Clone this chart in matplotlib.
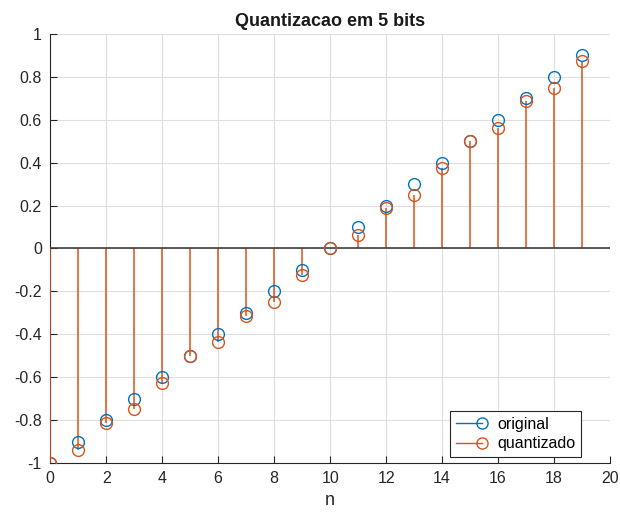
import matplotlib

matplotlib.use("Agg")
import matplotlib.pyplot as plt
from matplotlib.legend_handler import HandlerBase
from matplotlib.lines import Line2D

n = list(range(20))
original = [-1.0, -0.9, -0.8, -0.7, -0.6, -0.5, -0.4, -0.3, -0.2, -0.1,
            0.0, 0.1, 0.2, 0.3, 0.4, 0.5, 0.6, 0.7, 0.8, 0.9]
quantizado = [-1.0, -0.9375, -0.8125, -0.75, -0.625, -0.5, -0.4375, -0.3125, -0.25, -0.125,
              0.0, 0.0625, 0.1875, 0.25, 0.375, 0.5, 0.5625, 0.6875, 0.75, 0.875]

blue = "#0072BD"
orange = "#D95319"

plt.rcParams["font.family"] = ["Liberation Sans", "DejaVu Sans"]


class StemHandler(HandlerBase):
    # MATLAB-like legend entry: line with the marker at its right end
    def create_artists(self, legend, orig_handle, xdescent, ydescent,
                       width, height, fontsize, trans):
        y = height / 2 - ydescent
        x0 = -xdescent
        x1 = -xdescent + width * 0.93
        col = orig_handle.get_color()
        line = Line2D([x0, x1], [y, y], color=col, linewidth=1.0, transform=trans)
        mk = Line2D([x1], [y], marker="o", markersize=8, markerfacecolor="none",
                    markeredgecolor=col, markeredgewidth=1.0, linestyle="none",
                    transform=trans)
        return [line, mk]


fig = plt.figure(figsize=(6.2, 5.15), dpi=100)
ax = fig.add_axes([0.081, 0.101, 0.903, 0.833])

handles = []
for vals, col, lab, z in [(original, blue, "original", 2),
                          (quantizado, orange, "quantizado", 3)]:
    ml, sl, bl = ax.stem(n, vals, basefmt=" ")
    plt.setp(sl, color=col, linewidth=1.1, zorder=z)
    plt.setp(ml, color=col, markerfacecolor="none", markeredgecolor=col,
             markersize=8.5, markeredgewidth=1.0, zorder=z + 2)
    handles.append(Line2D([], [], color=col, label=lab))
    if lab == "original":
        # fully covered by the quantizado stems; avoid antialias colour bleed
        sl.set_visible(False)

ax.axhline(0, color="#404040", linewidth=1.2, zorder=3.5)

ax.set_xlim(0, 20)
ax.set_ylim(-1, 1)
ax.set_xticks(range(0, 21, 2))
ax.set_yticks([-1, -0.8, -0.6, -0.4, -0.2, 0, 0.2, 0.4, 0.6, 0.8, 1])
ax.set_yticklabels(["-1", "-0.8", "-0.6", "-0.4", "-0.2", "0", "0.2", "0.4", "0.6", "0.8", "1"])
ax.grid(True, color="#dfdfdf", linewidth=0.8)
ax.set_axisbelow(True)
for s in ["top", "right"]:
    ax.spines[s].set_visible(False)
for s in ["left", "bottom"]:
    ax.spines[s].set_color("#262626")
ax.tick_params(direction="in", length=5, labelsize=11.5, colors="#262626", pad=6)

ax.set_xlabel("n", fontsize=13, color="#262626")
ax.set_title("Quantizacao em 5 bits", fontsize=13, fontweight="bold", color="#1a1a1a")

leg = ax.legend(handles=handles, loc="lower right", bbox_to_anchor=(0.948, 0.014),
                borderaxespad=0, fontsize=11.5, fancybox=False, edgecolor="#262626",
                framealpha=1, handlelength=1.75, handletextpad=0.85, borderpad=0.35,
                labelspacing=0.3, handler_map={Line2D: StemHandler()})
leg.get_frame().set_linewidth(0.8)

fig.savefig("out.png", dpi=100)
